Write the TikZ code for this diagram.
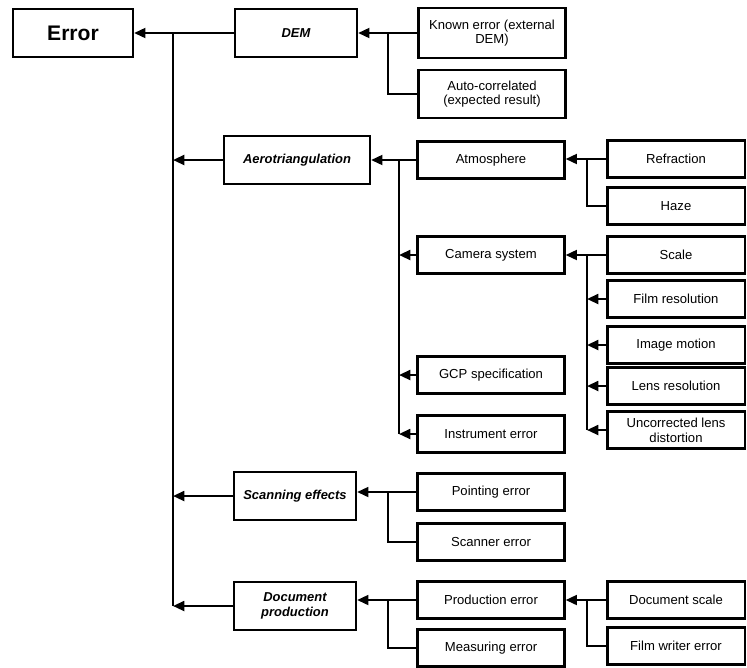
\documentclass[tikz,border=0pt]{standalone}
\usepackage{fontspec}
\setmainfont{Liberation Sans}
\usetikzlibrary{arrows.meta,positioning}
\tikzset{
    %Define standard arrow tip
    >={Triangle[length=8pt,width=7pt]},
    %Define style for boxes
    rootbox/.style={
           rectangle,
           draw=black, line width=1.6pt,
           minimum width=3cm,
           minimum height=1.2cm,
           font=\bfseries\fontsize{15}{17}\selectfont,
           text centered},
    catbox/.style={
           rectangle,
           draw=black, line width=1.6pt,
           minimum width=3.05cm,
           minimum height=1.2cm,
           font=\bfseries\itshape\fontsize{9.2}{10.5}\selectfont,
           align=center},
    subbox/.style={
           rectangle,
           draw=black, line width=1.6pt,
           minimum width=3.675cm,
           minimum height=0.92cm,
           font=\fontsize{9.3}{10.5}\selectfont,
           align=center},
    leafbox/.style={
           rectangle,
           draw=black, line width=1.6pt,
           minimum width=3.43cm,
           minimum height=0.92cm,
           font=\fontsize{9.3}{10.5}\selectfont,
           align=center},
    % Define connector styles
    pil/.style={
           ->,
           line width=1.6pt},
    bus/.style={
           line width=1.6pt}
}
\begin{document}
\begin{tikzpicture}[x=0.025cm,y=-0.025cm]
\useasboundingbox (0,0) rectangle (747,667);
% main column
\node[rootbox](err) at (73,33){Error};
\node[catbox](dem) at (296,33){DEM};
\node[catbox, minimum width=3.65cm](aero) at (297,160){Aerotriangulation};
\node[catbox](scan) at (295,496){Scanning effects};
\node[catbox](doc) at (295,606){Document\\production};
% middle column
\node[subbox, minimum height=1.25cm](known) at (492,33){Known error (external\\DEM)};
\node[subbox, minimum height=1.2cm](auto) at (492,94){Auto-correlated\\(expected result)};
\node[subbox](atmo) at (491,160){Atmosphere};
\node[subbox](cam) at (491,255){Camera system};
\node[subbox](gcp) at (491,375){GCP specification};
\node[subbox](instr) at (491,434){Instrument error};
\node[subbox](point) at (491,492){Pointing error};
\node[subbox](scanner) at (491,542){Scanner error};
\node[subbox](prod) at (491,600){Production error};
\node[subbox](meas) at (491,648){Measuring error};
% right column
\node[leafbox](refr) at (676,159){Refraction};
\node[leafbox](haze) at (676,206){Haze};
\node[leafbox](scale) at (676,255){Scale};
\node[leafbox](film) at (676,299){Film resolution};
\node[leafbox](motion) at (676,345){Image motion};
\node[leafbox](lens) at (676,386){Lens resolution};
\node[leafbox](uncorr) at (676,430){Uncorrected lens\\distortion};
\node[leafbox](dscale) at (676,600){Document scale};
\node[leafbox](writer) at (676,646){Film writer error};
% bus positions
\coordinate (trunk) at (173,33);
\coordinate (demb) at (388,33);
\coordinate (aerob) at (399,160);
\coordinate (rightb) at (587,160);
% trunk
\draw[pil] (dem.west) -- (err.east);
\draw[bus] (trunk) -- (doc.west -| trunk);
\foreach \n in {aero,scan,doc}
  \draw[pil] (\n.west) -- (\n.west -| trunk);
% DEM
\draw[pil] (known.west) -- (known.west -| dem.east);
\draw[bus] (known.west -| demb) |- (auto.west);
% Aerotriangulation
\draw[pil] (atmo.west) -- (atmo.west -| aero.east);
\draw[bus] (atmo.west -| aerob) -- (instr.west -| aerob);
\foreach \n in {cam,gcp,instr}
  \draw[pil] (\n.west) -- (\n.west -| aerob);
% Atmosphere
\draw[pil] (refr.west) -- (refr.west -| atmo.east);
\draw[bus] (refr.west -| rightb) |- (haze.west);
% Camera system
\draw[pil] (scale.west) -- (scale.west -| cam.east);
\draw[bus] (scale.west -| rightb) -- (uncorr.west -| rightb);
\foreach \n in {film,motion,lens,uncorr}
  \draw[pil] (\n.west) -- (\n.west -| rightb);
% Scanning effects
\draw[pil] (point.west) -- (point.west -| scan.east);
\draw[bus] (point.west -| demb) |- (scanner.west);
% Document production
\draw[pil] (prod.west) -- (prod.west -| doc.east);
\draw[bus] (prod.west -| demb) |- (meas.west);
% Production error
\draw[pil] (dscale.west) -- (dscale.west -| prod.east);
\draw[bus] (dscale.west -| rightb) |- (writer.west);
\end{tikzpicture}
\end{document}
